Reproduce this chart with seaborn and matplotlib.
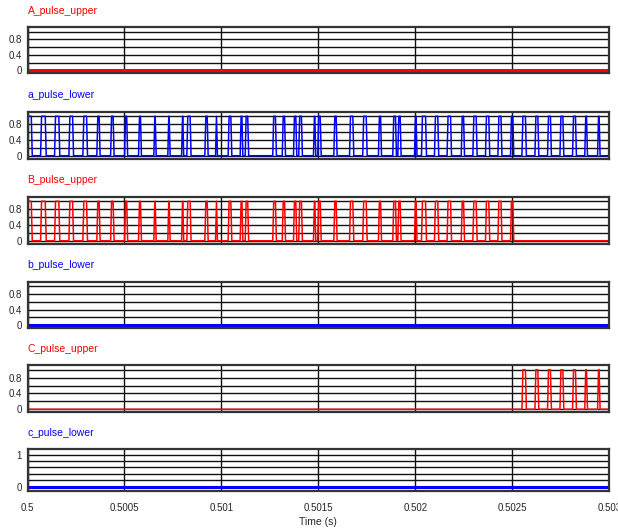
import numpy as np
import pandas as pd
import matplotlib
matplotlib.use('Agg')
import matplotlib.pyplot as plt
import seaborn as sns

# ---------------- data ----------------
t0 = 0.5
t_span_us = 3000

# rising / falling edges of a_pulse_lower, microseconds after t0
a_rise_us = [0, 70, 142, 216, 288, 360, 431, 503, 575, 654, 726, 797, 824, 917,
             972, 1037, 1099, 1125, 1267, 1316, 1374, 1401, 1477, 1499, 1582,
             1663, 1731, 1812, 1886, 1912, 1998, 2034, 2101, 2166, 2239, 2299,
             2364, 2428, 2493, 2552, 2619, 2684, 2748, 2813, 2876, 2942]
a_fall_us = [22, 94, 164, 235, 307, 372, 444, 514, 585, 661, 733, 803, 841, 929,
             977, 1051, 1108, 1138, 1281, 1328, 1386, 1415, 1484, 1512, 1594,
             1680, 1749, 1823, 1900, 1924, 2006, 2055, 2118, 2184, 2251, 2316,
             2381, 2444, 2505, 2570, 2634, 2699, 2763, 2828, 2885, 2950]
# B_pulse_upper follows a before this instant, C_pulse_upper after it
split_us = 2520

names = ['A_pulse_upper', 'a_pulse_lower', 'B_pulse_upper',
         'b_pulse_lower', 'C_pulse_upper', 'c_pulse_lower']
colors = ['#ff0000', '#0000ff', '#ff0000', '#0000ff', '#ff0000', '#0000ff']
x_tick_labels = ['0.5', '0.5005', '0.501', '0.5015', '0.502', '0.5025', '0.503']

pulses = {
    'A_pulse_upper': [],
    'a_pulse_lower': list(zip(a_rise_us, a_fall_us)),
    'B_pulse_upper': [(r, f) for r, f in zip(a_rise_us, a_fall_us) if r < split_us],
    'b_pulse_lower': [],
    'C_pulse_upper': [(r, f) for r, f in zip(a_rise_us, a_fall_us) if r >= split_us],
    'c_pulse_lower': [],
}


def waveform(edges, ramp=2.5):
    # edges drawn as short ramps centred on each switching instant
    xs, ys = [0], [0]
    for r, f in edges:
        if r == 0:
            xs, ys = [0], [1]
        else:
            xs += [r - ramp, r + ramp]
            ys += [0, 1]
        xs += [f - ramp, f + ramp]
        ys += [1, 0]
    xs.append(t_span_us)
    ys.append(0)
    return pd.DataFrame({'t': t0 + np.array(xs) * 1e-6, 'v': ys})


# ---------------- plotting ----------------
sns.set_style('white')
plt.rcParams['font.family'] = ['Liberation Sans Narrow', 'Liberation Sans', 'DejaVu Sans']

fig = plt.figure(figsize=(6.18, 5.29), dpi=100)
W, H = 618, 529
left, right = 27.5, 609.3
panels = [(27, 73), (111.5, 158.5), (196.5, 243.5),
          (281.5, 328), (365, 412), (449, 490.5)]

for i, (name, col) in enumerate(zip(names, colors)):
    top, bot = panels[i]
    ax = fig.add_axes([left / W, 1 - bot / H, (right - left) / W, (bot - top) / H])
    df = waveform(pulses[name])
    sns.lineplot(data=df, x='t', y='v', estimator=None, sort=False,
                 color=col, lw=1.1 if pulses[name] else 2.2, ax=ax)

    ax.set_xlim(t0, t0 + t_span_us * 1e-6)
    ax.set_xticks(np.linspace(t0, t0 + t_span_us * 1e-6, 7))
    ax.set_ylabel('')
    ax.set_xlabel('')
    if i < 5:
        ax.set_ylim(-0.07, 1.12)
        ax.set_yticks([0, 0.4, 0.8])
        ax.set_yticklabels(['0', '0.4', '0.8'])
        ax.set_yticks([0.2, 0.6, 1.0], minor=True)
        ax.set_xticklabels([])
    else:
        ax.set_ylim(-0.11, 1.17)
        ax.set_yticks([0, 1])
        ax.set_yticklabels(['0', '1'])
        ax.set_yticks([0.2, 0.4, 0.6, 0.8], minor=True)
        ax.set_xticklabels(x_tick_labels)
        ax.set_xlabel('Time (s)', fontsize=7.5, labelpad=3)
    ax.grid(which='both', color='#111111', lw=1.0)
    ax.tick_params(which='both', length=0, labelsize=7, pad=4)
    ax.tick_params(axis='x', pad=9)
    for s in ax.spines.values():
        s.set_color('#333333')
        s.set_linewidth(1.6)
    ax.annotate(name, xy=(0, 1), xycoords='axes fraction', xytext=(0, 8),
                textcoords='offset points', color=col, fontsize=7.5,
                ha='left', va='bottom')

fig.savefig('out.png', dpi=100)
